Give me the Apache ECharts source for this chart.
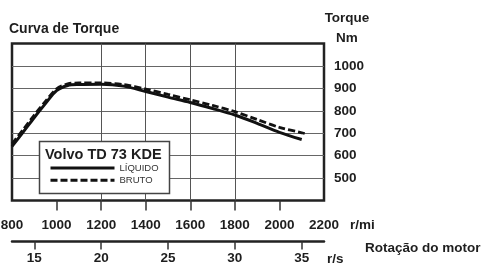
<!DOCTYPE html>
<html>
<head>
<meta charset="utf-8">
<script src="https://cdn.jsdelivr.net/npm/echarts@6/dist/echarts.min.js"></script>
<style>
  html, body { margin: 0; padding: 0; background: #fff; }
  #main { width: 486px; height: 265px; }
</style>
</head>
<body>
<div id="main"></div>
<script>
// rotação (r/min) e torque (Nm)
var rpmLiquido = [800, 850, 900, 950, 1000, 1050, 1100, 1200, 1300, 1400, 1500, 1600, 1700, 1800, 1900, 2000, 2100];
var torqueLiquido = [641, 705, 770, 832, 890, 913, 917, 918, 910, 886, 861, 837, 810, 781, 744, 704, 672];
var rpmBruto = [800, 850, 900, 950, 1000, 1050, 1100, 1200, 1300, 1400, 1500, 1600, 1700, 1800, 1900, 2000, 2100, 2120];
var torqueBruto = [652, 716, 781, 842, 898, 920, 924, 924, 917, 897, 873, 849, 824, 796, 761, 726, 702, 697];

var rpmTicks = [800, 1000, 1200, 1400, 1600, 1800, 2000, 2200];
var rsTicks = [15, 20, 25, 30, 35];
var torqueTicks = [500, 600, 700, 800, 900, 1000];

var fonte = '"Liberation Sans", Arial, sans-serif';
var preto = '#1e1e1e';

function pares(xs, ys) {
    var out = [];
    for (var i = 0; i < xs.length; i++) {
        out.push([xs[i], ys[i]]);
    }
    return out;
}
// sem separador de milhar
function semPonto(v) { return String(v); }

var myChart = echarts.init(document.getElementById('main'), null, {renderer: 'canvas'});
var option = {
    animation: false,
    backgroundColor: '#fff',
    textStyle: {fontFamily: fonte},
    grid: {
        left: 12, right: 162, top: 43.5, bottom: 64.5,
        show: true,
        borderColor: '#222',
        borderWidth: 2.5,
        backgroundColor: 'transparent',
        containLabel: false,
        outerBoundsMode: 'none'
    },
    xAxis: [
        {
            type: 'value',
            position: 'bottom',
            min: 800, max: 2200, interval: 200,
            axisLine: {show: false},
            axisTick: {
                show: true, length: 10,
                customValues: rpmTicks.slice(1, -1),
                lineStyle: {color: '#333', width: 1.5}
            },
            axisLabel: {
                customValues: rpmTicks,
                formatter: semPonto,
                margin: 18,
                fontSize: 13.5, fontWeight: 'bold', color: preto, fontFamily: fonte
            },
            splitLine: {
                show: true, showMinLine: false, showMaxLine: false,
                lineStyle: {color: '#555', width: 1}
            }
        },
        {
            type: 'value',
            position: 'bottom',
            offset: 41,
            min: 800, max: 2200,
            axisLine: {show: true, onZero: false, lineStyle: {color: '#222', width: 2.5}},
            axisTick: {
                show: true, length: 8,
                customValues: rsTicks.map(function (v) { return v * 60; }),
                lineStyle: {color: '#333', width: 1.5}
            },
            axisLabel: {
                customValues: rsTicks.map(function (v) { return v * 60; }),
                formatter: function (v) { return String(Math.round(v / 60)); },
                margin: 10,
                fontSize: 13.5, fontWeight: 'bold', color: preto, fontFamily: fonte
            },
            splitLine: {show: false}
        }
    ],
    yAxis: {
        type: 'value',
        position: 'right',
        min: 400, max: 1100, interval: 100,
        axisLine: {show: false},
        axisTick: {show: false},
        axisLabel: {
            customValues: torqueTicks,
            formatter: semPonto,
            margin: 10,
            fontSize: 13.5, fontWeight: 'bold', color: preto, fontFamily: fonte
        },
        splitLine: {
            show: true, showMinLine: false, showMaxLine: false,
            lineStyle: {color: '#666', width: 1}
        }
    },
    legend: {
        orient: 'vertical',
        left: 49, top: 162.5,
        padding: 0,
        itemWidth: 64, itemHeight: 14, itemGap: 1,
        itemStyle: {opacity: 0},
        lineStyle: {width: 3},
        textStyle: {fontSize: 9.5, color: '#333', fontFamily: fonte},
        data: ['LÍQUIDO', 'BRUTO'],
        z: 10
    },
    graphic: [
        {type: 'rect', z: 1, shape: {x: 39.5, y: 141.5, width: 130, height: 52},
            style: {fill: '#fff', stroke: '#444', lineWidth: 1.5}},
        {type: 'text', z: 2, x: 45, y: 155,
            style: {text: 'Volvo TD 73 KDE', font: 'bold 14.5px ' + fonte, fill: preto, verticalAlign: 'middle'}},
        {type: 'text', x: 9, y: 29,
            style: {text: 'Curva de Torque', font: 'bold 14px ' + fonte, fill: preto, verticalAlign: 'middle'}},
        {type: 'text', x: 347, y: 18,
            style: {text: 'Torque', font: 'bold 13.5px ' + fonte, fill: preto, align: 'center', verticalAlign: 'middle'}},
        {type: 'text', x: 347, y: 38,
            style: {text: 'Nm', font: 'bold 13.5px ' + fonte, fill: preto, align: 'center', verticalAlign: 'middle'}},
        {type: 'text', x: 350, y: 225,
            style: {text: 'r/mi', font: 'bold 13.5px ' + fonte, fill: preto, verticalAlign: 'middle'}},
        {type: 'text', x: 365, y: 248,
            style: {text: 'Rotação do motor', font: 'bold 13.5px ' + fonte, fill: preto, verticalAlign: 'middle'}},
        {type: 'text', x: 327, y: 259,
            style: {text: 'r/s', font: 'bold 13.5px ' + fonte, fill: preto, verticalAlign: 'middle'}}
    ],
    series: [
        {
            name: 'LÍQUIDO',
            type: 'line',
            xAxisIndex: 0,
            data: pares(rpmLiquido, torqueLiquido),
            showSymbol: false, symbol: 'none',
            smooth: 0.3,
            lineStyle: {color: '#111', width: 3, type: 'solid'},
            itemStyle: {color: '#111'},
            z: 3
        },
        {
            name: 'BRUTO',
            type: 'line',
            xAxisIndex: 0,
            data: pares(rpmBruto, torqueBruto),
            showSymbol: false, symbol: 'none',
            smooth: 0.3,
            lineStyle: {color: '#111', width: 2.8, type: [7, 3]},
            itemStyle: {color: '#111'},
            z: 3
        }
    ]
};
option && myChart.setOption(option);
</script>
</body>
</html>
